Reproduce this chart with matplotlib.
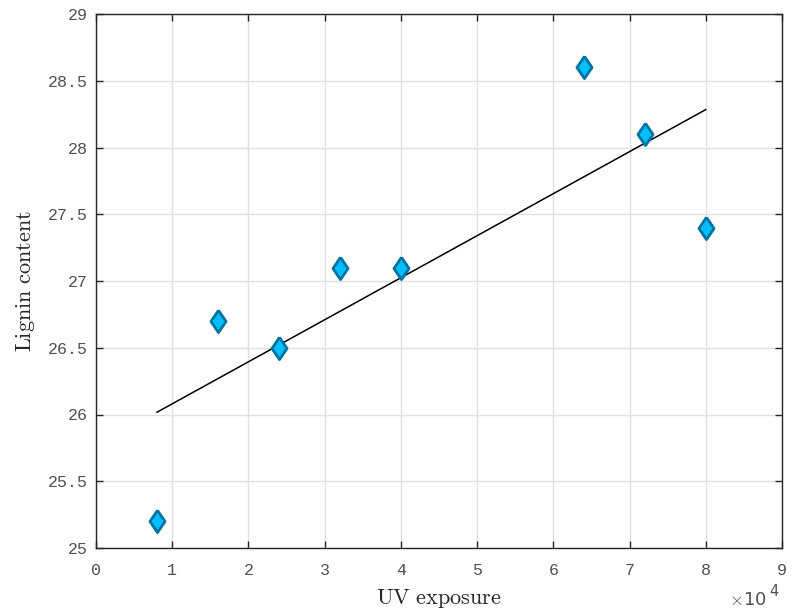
import numpy as np
import matplotlib
matplotlib.use('Agg')
import matplotlib.pyplot as plt
from matplotlib.markers import MarkerStyle

plt.rcParams['mathtext.fontset'] = 'cm'

# UV exposure vs lignin content
uv_exposure = [8000, 16000, 24000, 32000, 40000, 64000, 72000, 80000]
lignin = [25.2, 26.7, 26.5, 27.1, 27.1, 28.6, 28.1, 27.4]

x = np.array(uv_exposure, dtype=float)
y = np.array(lignin)
slope, intercept = np.polyfit(x, y, 1)
fit_x = np.array([x.min(), x.max()])
fit_y = slope * fit_x + intercept

fig = plt.figure(figsize=(7.92, 6.15), dpi=100)
ax = fig.add_axes([96/792, 1 - 548/615, (782-96)/792, (548-14)/615])

diamond = MarkerStyle([(0, 1), (0.68, 0), (0, -1), (-0.68, 0), (0, 1)], joinstyle='miter')
ax.plot(x, y, linestyle='none', marker=diamond, markersize=16, markerfacecolor='#00bfff',
        markeredgecolor='#0073a0', markeredgewidth=2, zorder=3)
ax.plot(fit_x, fit_y, color='black', linewidth=1.1, zorder=2)

ax.set_xlim(0, 90000)
ax.set_ylim(25, 29)
ax.set_xticks(np.arange(0, 90001, 10000))
ax.set_xticklabels([str(i) for i in range(10)])
ax.set_yticks(np.arange(25, 29.01, 0.5))
ax.set_yticklabels(['25', '25.5', '26', '26.5', '27', '27.5', '28', '28.5', '29'])

ax.grid(True, color='#e0e0e0', linewidth=1)
ax.set_axisbelow(True)
ax.tick_params(direction='in', length=5, width=1, top=True, right=True,
               labelsize=12, colors='#262626', labelcolor='#505050')
ax.tick_params(axis='x', pad=11)
ax.tick_params(axis='y', pad=6)
for lbl in ax.get_xticklabels() + ax.get_yticklabels():
    lbl.set_family('Liberation Mono')
for s in ax.spines.values():
    s.set_color('#262626')
    s.set_linewidth(1)

ax.set_xlabel(r'$\mathrm{UV\ exposure}$', fontsize=16, color='#262626', labelpad=6)
ax.set_ylabel(r'$\mathrm{Lignin\ content}$', fontsize=16, color='#262626', labelpad=8)
ax.text(1 - 15/686, -52/534, r'$\times$10', transform=ax.transAxes, ha='right', va='center',
        fontsize=13, family='DejaVu Sans', color='#505050')
ax.text(1 - 13/686, -43/534, '4', transform=ax.transAxes, ha='left', va='center',
        fontsize=10.5, family='DejaVu Sans', color='#505050')

fig.savefig('out.png', dpi=100)
